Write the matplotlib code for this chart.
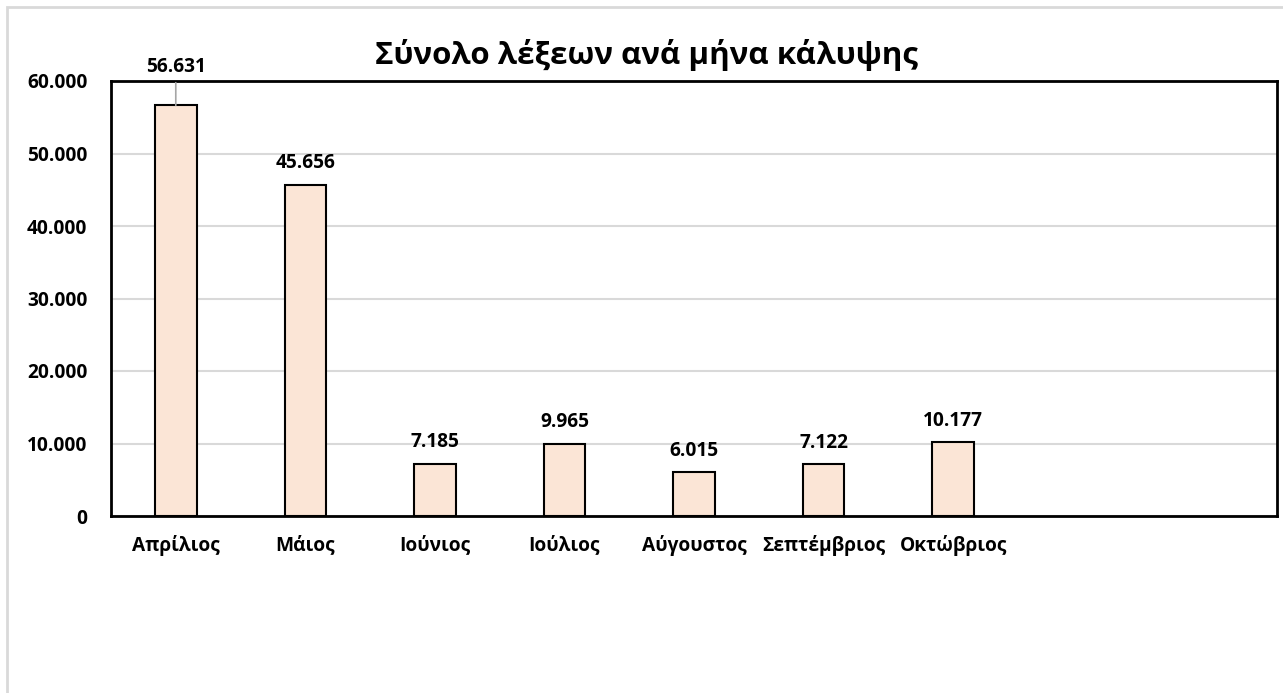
import matplotlib.pyplot as plt
from matplotlib.patches import Rectangle

plt.rcParams['font.family'] = ['Open Sans', 'DejaVu Sans']

# δεδομένα
months = ['Απρίλιος', 'Μάιος', 'Ιούνιος', 'Ιούλιος', 'Αύγουστος', 'Σεπτέμβριος', 'Οκτώβριος']
words = [56631, 45656, 7185, 9965, 6015, 7122, 10177]
labels = ['56.631', '45.656', '7.185', '9.965', '6.015', '7.122', '10.177']
n_slots = 9  # δύο κενές κατηγορίες στο τέλος
yticks = [0, 10000, 20000, 30000, 40000, 50000, 60000]
ytick_labels = ['0', '10.000', '20.000', '30.000', '40.000', '50.000', '60.000']

fig = plt.figure(figsize=(12.83, 6.93), dpi=100)
ax = fig.add_axes([111 / 1283, 1 - 516 / 693, (1277 - 111) / 1283, (516 - 81) / 693])

# περίγραμμα γραφήματος (Excel)
fig.patches.append(Rectangle((7 / 1283, -0.1), 1.2, 1 - 7 / 693 + 0.1, transform=fig.transFigure,
                             fill=False, edgecolor='#d9d9d9', linewidth=2))

x = list(range(len(months)))
ax.bar(x, words, width=0.32, color='#fbe5d6', edgecolor='black', linewidth=1.5, zorder=3)

fs = 13.8
ax.set_xlim(-0.5, n_slots - 0.5)
ax.set_ylim(0, 60000)
ax.set_yticks(yticks)
ax.set_yticklabels(ytick_labels, fontsize=fs, fontweight='bold')
ax.set_xticks(x)
ax.set_xticklabels(months, fontsize=fs, fontweight='bold')
ax.tick_params(axis='both', length=0)
ax.tick_params(axis='y', pad=17)
ax.tick_params(axis='x', pad=14)
ax.grid(axis='y', color='#d9d9d9', linewidth=1.5, zorder=0)
for s in ax.spines.values():
    s.set_linewidth(2)
    s.set_color('black')

for i, (v, lab) in enumerate(zip(words, labels)):
    if i == 0:
        # ετικέτα με γραμμή οδηγό
        ax.annotate(lab, xy=(i, v), xytext=(i, v + 3900), ha='center', va='bottom',
                    fontsize=fs, fontweight='bold', annotation_clip=False,
                    arrowprops=dict(arrowstyle='-', color='#a6a6a6', linewidth=1.2,
                                    shrinkA=2, shrinkB=0))
    else:
        ax.text(i, v + 1600, lab, ha='center', va='bottom', fontsize=fs, fontweight='bold')

fig.text(646 / 1283, 1 - 55 / 693, 'Σύνολο λέξεων ανά μήνα κάλυψης', ha='center', va='center',
         fontsize=22.5, fontweight='bold')

fig.savefig('out.png', dpi=100)
